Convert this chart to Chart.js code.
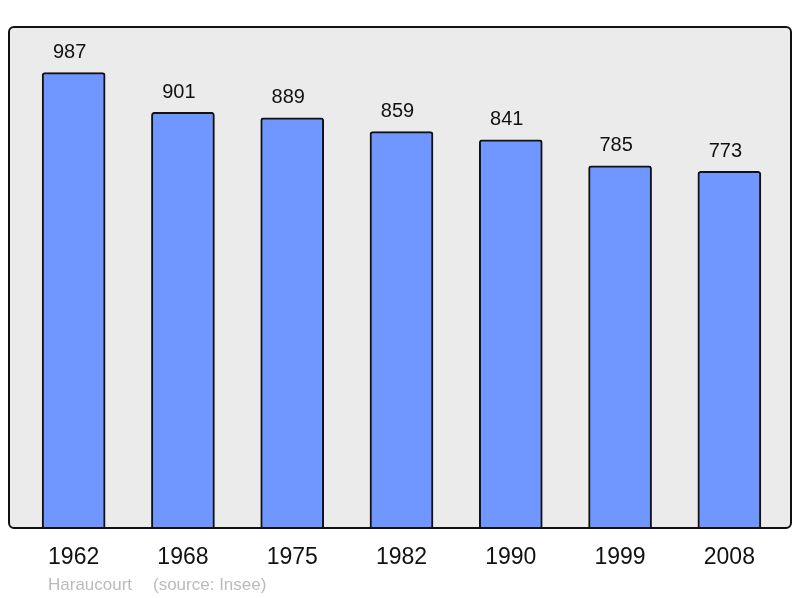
<!DOCTYPE html>
<html>
<head>
<meta charset="utf-8">
<script src="https://cdn.jsdelivr.net/npm/chart.js@4/dist/chart.umd.min.js"></script>
<style>
  html, body { margin: 0; padding: 0; background: #fff; }
  #wrap { width: 800px; height: 598px; }
</style>
</head>
<body>
<div id="wrap"><canvas id="chartPop"></canvas></div>
<script>
// données
const years = ["1962", "1968", "1975", "1982", "1990", "1999", "2008"];
const population = [987, 901, 889, 859, 841, 785, 773];
const townName = "Haraucourt";
const sourceText = "(source: Insee)";

// fond gris + cadre
const frameBox = {
  id: "frameBox",
  beforeDatasetsDraw(chart) {
    const { ctx, chartArea: a } = chart;
    ctx.save();
    ctx.beginPath();
    ctx.roundRect(a.left - 10, a.top, a.width + 17, a.height, 5);
    ctx.fillStyle = "#ebebeb";
    ctx.fill();
    ctx.restore();
  },
  afterDatasetsDraw(chart) {
    const { ctx, chartArea: a } = chart;
    ctx.save();
    ctx.beginPath();
    ctx.roundRect(a.left - 10, a.top, a.width + 17, a.height, 5);
    ctx.lineWidth = 2;
    ctx.strokeStyle = "#111";
    ctx.stroke();

    // valeurs au-dessus des barres
    const meta = chart.getDatasetMeta(0);
    ctx.fillStyle = "#111";
    ctx.font = "20px 'Liberation Sans', Arial, sans-serif";
    ctx.textAlign = "center";
    ctx.textBaseline = "middle";
    meta.data.forEach((bar, i) => {
      ctx.fillText(String(population[i]), bar.x - 4, bar.y - 20);
    });

    // pied de page
    ctx.fillStyle = "#bbbbbb";
    ctx.font = "17px 'Liberation Sans', Arial, sans-serif";
    ctx.textAlign = "left";
    ctx.fillText(townName, 48, 585);
    ctx.fillText(sourceText, 153, 585);
    ctx.restore();
  }
};

new Chart(document.getElementById("chartPop"), {
  type: "bar",
  data: {
    labels: years,
    datasets: [{
      data: population,
      backgroundColor: "#7096ff",
      borderColor: "#111",
      borderWidth: 2,
      borderRadius: { topLeft: 3, topRight: 3 },
      borderSkipped: "bottom",
      barThickness: 63
    }]
  },
  options: {
    responsive: true,
    maintainAspectRatio: false,
    animation: false,
    layout: { padding: { left: 19, right: 16, top: 27, bottom: 20 } },
    plugins: { legend: { display: false }, tooltip: { enabled: false } },
    scales: {
      x: {
        grid: { display: false, drawTicks: false },
        border: { display: false },
        ticks: {
          color: "#111",
          padding: 16,
          font: { family: "'Liberation Sans', Arial, sans-serif", size: 23 }
        },
        afterFit(axis) { axis.height = 50; }
      },
      y: {
        display: false,
        min: 0,
        max: 1085.7
      }
    }
  },
  plugins: [frameBox]
});
</script>
</body>
</html>
